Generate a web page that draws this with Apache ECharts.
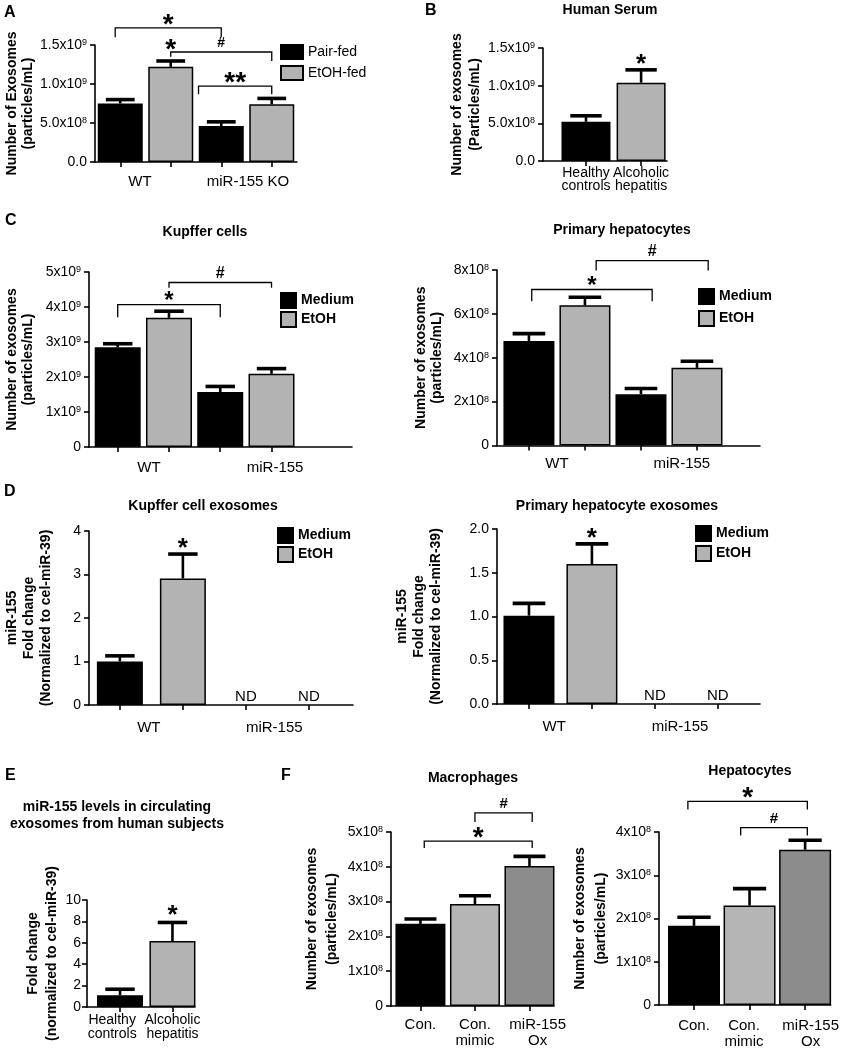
<!DOCTYPE html>
<html><head><meta charset="utf-8">
<script src="https://cdn.jsdelivr.net/npm/echarts@6/dist/echarts.min.js"></script>
<style>html,body{margin:0;padding:0;background:#fff}#c{width:842px;height:1050px}</style>
</head><body><div id="c"></div>
<script>
// ================= DATA =================
// A: mouse serum exosomes
const groupsA = ['WT', 'miR-155 KO'];
const pairFedA = [0.75e9, 0.46e9];
const pairFedSemA = [0.05e9, 0.055e9];
const etohFedA = [1.22e9, 0.74e9];
const etohFedSemA = [0.075e9, 0.075e9];
const yTicksA = ['0.0', '5.0x10^8', '1.0x10^9', '1.5x10^9'];

// B: human serum
const groupsB = ['Healthy\ncontrols', 'Alcoholic\nhepatitis'];
const serumB = [0.52e9, 1.04e9];
const serumSemB = [0.08e9, 0.17e9];
const yTicksB = ['0.0', '5.0x10^8', '1.0x10^9', '1.5x10^9'];

// C: Kupffer cells / primary hepatocytes
const groupsC = ['WT', 'miR-155'];
const kcMedium = [2.85e9, 1.57e9];
const kcMediumSem = [0.10e9, 0.16e9];
const kcEtoh = [3.69e9, 2.09e9];
const kcEtohSem = [0.19e9, 0.15e9];
const yTicksC1 = ['0', '1x10^9', '2x10^9', '3x10^9', '4x10^9', '5x10^9'];
const hepMedium = [4.76e8, 2.34e8];
const hepMediumSem = [0.34e8, 0.26e8];
const hepEtoh = [6.39e8, 3.54e8];
const hepEtohSem = [0.37e8, 0.30e8];
const yTicksC2 = ['0', '2x10^8', '4x10^8', '6x10^8', '8x10^8'];

// D: miR-155 in exosomes (null = not detected)
const groupsD = ['WT', 'miR-155'];
const kcExoMedium = [1.0, null];
const kcExoMediumSem = [0.13, null];
const kcExoEtoh = [2.91, null];
const kcExoEtohSem = [0.56, null];
const yTicksD1 = ['0', '1', '2', '3', '4'];
const hepExoMedium = [1.01, null];
const hepExoMediumSem = [0.14, null];
const hepExoEtoh = [1.60, null];
const hepExoEtohSem = [0.23, null];
const yTicksD2 = ['0.0', '0.5', '1.0', '1.5', '2.0'];

// E: human circulating exosomes miR-155
const groupsE = ['Healthy\ncontrols', 'Alcoholic\nhepatitis'];
const foldE = [1.1, 6.16];
const foldSemE = [0.56, 1.74];
const yTicksE = ['0', '2', '4', '6', '8', '10'];

// F: macrophages / hepatocytes
const groupsF = ['Con.', 'Con.\nmimic', 'miR-155\nOx'];
const macroF = [2.36e8, 2.93e8, 4.02e8];
const macroSemF = [0.14e8, 0.24e8, 0.28e8];
const yTicksF1 = ['0', '1x10^8', '2x10^8', '3x10^8', '4x10^8', '5x10^8'];
const hepF = [1.83e8, 2.30e8, 3.59e8];
const hepSemF = [0.20e8, 0.39e8, 0.22e8];
const yTicksF2 = ['0', '1x10^8', '2x10^8', '3x10^8', '4x10^8'];

// significance annotations (x in bar-index units, y in data units)
const bracketsA = [
  {x1: -0.1, x2: 2, level: 1.72e9, dl: 1.60e9, dr: 1.60e9, text: '*'},
  {x1: 1, x2: 3, level: 1.41e9, dl: 1.35e9, dr: 1.295e9, text: '#'},
  {x1: 1.55, x2: 3, level: 0.974e9, dl: 0.87e9, dr: 0.87e9, text: '**'}
];
const starsA = ['', '*', '', ''];
const starsB = ['', '*'];
const bracketsC1 = [
  {x1: 0, x2: 2, level: 4.07e9, dl: 3.71e9, dr: 3.71e9, text: '*'},
  {x1: 1, x2: 3, level: 4.70e9, dl: 4.55e9, dr: 4.55e9, text: '#'}
];
const bracketsC2 = [
  {x1: 0.05, x2: 2.2, level: 7.11e8, dl: 6.57e8, dr: 6.57e8, text: '*'},
  {x1: 1.2, x2: 3.2, level: 8.43e8, dl: 7.98e8, dr: 7.98e8, text: '#'}
];
const starsD = ['', '*', '', ''];
const starsE = ['', '*'];
const bracketsF1 = [
  {x1: 0.07, x2: 2.05, level: 4.74e8, dl: 4.54e8, dr: 4.54e8, text: '*'},
  {x1: 1, x2: 2.05, level: 5.55e8, dl: 5.29e8, dr: 5.29e8, text: '#'}
];
const bracketsF2 = [
  {x1: -0.11, x2: 2.04, level: 4.71e8, dl: 4.52e8, dr: 4.52e8, text: '*'},
  {x1: 0.84, x2: 2.04, level: 4.10e8, dl: 3.92e8, dr: 3.92e8, text: '#'}
];

// ================= STYLE / BUILD =================
const FONT = '"Liberation Sans", Arial, Helvetica, sans-serif';
const GRAY = '#b3b3b3';
const AX = 1.6;
const RICH = {
  m: {fontSize: 14, color: '#000', fontFamily: FONT},
  s: {fontSize: 9, color: '#000', fontFamily: FONT, verticalAlign: 'top'}
};
function tickRich(s) {
  if (s === undefined) return '';
  const p = s.split('^');
  return p.length > 1 ? '{m|' + p[0] + '}{s|' + p[1] + '}' : '{m|' + p[0] + '}';
}
function symText(x, cy, t, fs) {
  const star = t.indexOf('*') >= 0;
  return {type: 'text', x: x, y: cy + (star ? 0.265 * fs : 0.05 * fs),
    style: {text: t, fontSize: fs, fontWeight: 'bold', fill: '#000', align: 'center', verticalAlign: 'middle', fontFamily: FONT}};
}

const option = {
  animation: false, backgroundColor: '#fff', textStyle: {fontFamily: FONT},
  grid: [], xAxis: [], yAxis: [], series: [], legend: [], graphic: []
};

function addPanel(c) {
  const gi = option.grid.length;
  option.grid.push({left: c.box[0], top: c.box[1], width: c.box[2], height: c.box[3]});
  const nS = c.series.length, nG = c.groups.length;
  const barPos = [];
  for (let i = 0; i < nS * nG; i++) barPos.push(i);
  const labelAt = c.labelAt;
  option.xAxis.push({
    type: 'value', gridIndex: gi, min: c.xRange[0], max: c.xRange[1],
    axisLine: {show: true, onZero: false, lineStyle: {color: '#000', width: AX}},
    axisTick: {show: true, customValues: barPos, length: 5, lineStyle: {color: '#000', width: AX}},
    axisLabel: {show: true, customValues: labelAt, margin: c.labelMargin, color: '#000',
      fontSize: c.catFont, lineHeight: c.catLH, fontFamily: FONT,
      formatter: function (v) {
        let best = 0;
        labelAt.forEach(function (p, i) { if (Math.abs(p - v) < Math.abs(labelAt[best] - v)) best = i; });
        return c.groups[best];
      }},
    splitLine: {show: false}
  });
  option.yAxis.push({
    type: 'value', gridIndex: gi, min: 0, max: c.yMax, interval: c.yStep,
    axisLine: {show: true, onZero: false, lineStyle: {color: '#000', width: AX}},
    axisTick: {show: true, length: 5, lineStyle: {color: '#000', width: AX}},
    axisLabel: {margin: c.yLabelMargin || 8, formatter: function (v) { return tickRich(c.yTicks[Math.round(v / c.yStep)]); }, rich: RICH},
    splitLine: {show: false},
    name: c.yName, nameLocation: 'middle', nameRotate: 90, nameGap: c.yNameGap,
    nameTextStyle: {fontWeight: 'bold', fontSize: 14, lineHeight: c.yNameLH, color: '#000', fontFamily: FONT, align: 'center'}
  });
  const errData = [];
  c.series.forEach(function (s, si) {
    const data = s.values.map(function (v, g) {
      const x = nS > 1 ? g * nS + si : g;
      if (v === null) {
        return {value: [x, 0], itemStyle: {borderWidth: 0},
          label: {show: true, formatter: 'ND', position: 'top', distance: 1, color: '#000', fontSize: 15, fontFamily: FONT}};
      }
      errData.push([x, v, v + s.sems[g]]);
      const item = {value: [x, v]};
      if (s.colors) item.itemStyle = {color: s.colors[g]};
      return item;
    });
    option.series.push({type: 'bar', name: s.name, xAxisIndex: gi, yAxisIndex: gi, barWidth: c.barWidth, barGap: '-100%',
      data: data, silent: true, z: 2,
      itemStyle: {color: s.color || '#000', borderColor: '#000', borderWidth: 1.5}});
  });
  const stars = c.stars || [];
  option.series.push({type: 'custom', xAxisIndex: gi, yAxisIndex: gi, z: 4, silent: true, data: errData,
    encode: {x: 0, y: [1, 2]},
    renderItem: function (p, api) {
      const x = api.value(0), m = api.value(1), u = api.value(2);
      const a = api.coord([x, m]), b = api.coord([x, u]);
      const hw = c.barWidth * 0.32;
      const ch = [
        {type: 'line', shape: {x1: a[0], y1: a[1], x2: b[0], y2: b[1]}, style: {stroke: '#000', lineWidth: 2.6}},
        {type: 'line', shape: {x1: b[0] - hw, y1: b[1], x2: b[0] + hw, y2: b[1]}, style: {stroke: '#000', lineWidth: 3.6}}
      ];
      const st = stars[Math.round(x)];
      if (st) ch.push(symText(b[0], b[1] - c.starOffset, st, c.starSize));
      return {type: 'group', children: ch};
    }});
  if (c.brackets) {
    option.series.push({type: 'custom', xAxisIndex: gi, yAxisIndex: gi, z: 4, silent: true,
      data: c.brackets.map(function (b) { return [b.x1, b.x2, b.level, b.dl, b.dr]; }),
      encode: {x: [0, 1], y: [2, 3, 4]},
      renderItem: function (p, api) {
        const b = c.brackets[p.dataIndex];
        const L = api.coord([api.value(0), api.value(2)]);
        const R = api.coord([api.value(1), api.value(2)]);
        const yl = api.coord([api.value(0), api.value(3)])[1];
        const yr = api.coord([api.value(1), api.value(4)])[1];
        const fs = b.text === '#' ? c.hashSize : c.starSize;
        return {type: 'group', children: [
          {type: 'polyline', shape: {points: [[L[0], yl], [L[0], L[1]], [R[0], R[1]], [R[0], yr]]},
            style: {stroke: '#000', lineWidth: 1.3, fill: null}},
          symText((L[0] + R[0]) / 2, L[1] - 10, b.text, fs)
        ]};
      }});
  }
  if (c.legend) {
    const lg = c.legend;
    option.legend.push({left: lg.left, top: lg.top, orient: 'vertical', padding: 0, icon: 'rect',
      itemWidth: lg.w, itemHeight: lg.h, itemGap: lg.gap, selectedMode: false,
      data: c.series.map(function (s) { return s.name; }),
      textStyle: {fontSize: 14, fontWeight: lg.bold ? 'bold' : 'normal', color: '#000', fontFamily: FONT}});
  }
}

function addText(x, y, t, fs, bold, align) {
  option.graphic.push({type: 'text', x: x, y: y, silent: true,
    style: {text: t, fontSize: fs, fontWeight: bold ? 'bold' : 'normal', fill: '#000',
      align: align || 'center', verticalAlign: 'middle', fontFamily: FONT}});
}

// ----- Panel A -----
addPanel({box: [95, 45, 202, 117], xRange: [-0.5, 3.5], yMax: 1.5e9, yStep: 0.5e9, yTicks: yTicksA,
  yName: 'Number of Exosomes\n(particles/mL)', yNameGap: 59, yNameLH: 16, barWidth: 45,
  groups: groupsA, labelAt: [0.39, 2.53], labelMargin: 12, catFont: 15, catLH: 15,
  series: [{name: 'Pair-fed', color: '#000', values: pairFedA, sems: pairFedSemA},
           {name: 'EtOH-fed', color: GRAY, values: etohFedA, sems: etohFedSemA}],
  brackets: bracketsA, stars: starsA, starOffset: 18, starSize: 28, hashSize: 14,
  legend: {left: 280, top: 44, w: 22, h: 14, gap: 5, bold: false}});
// ----- Panel B -----
addPanel({box: [543, 48, 124, 113], xRange: [-0.78, 1.47], yMax: 1.5e9, yStep: 0.5e9, yTicks: yTicksB,
  yName: 'Number of exosomes\n(Particles/mL)', yNameGap: 46, yNameLH: 18, barWidth: 49,
  groups: groupsB, labelAt: [0, 1], labelMargin: 6, catFont: 14, catLH: 13,
  series: [{name: 'Human serum', values: serumB, sems: serumSemB, colors: ['#000', GRAY]}],
  stars: starsB, starOffset: 12, starSize: 26, hashSize: 15});
// ----- Panel C left -----
addPanel({box: [89, 272, 263, 175], xRange: [-0.56, 4.57], yMax: 5e9, yStep: 1e9, yTicks: yTicksC1,
  yName: 'Number of exosomes\n(particles/mL)', yNameGap: 53, yNameLH: 16, barWidth: 46,
  groups: groupsC, labelAt: [0.61, 3.07], labelMargin: 13, catFont: 15, catLH: 15,
  series: [{name: 'Medium', color: '#000', values: kcMedium, sems: kcMediumSem},
           {name: 'EtOH', color: GRAY, values: kcEtoh, sems: kcEtohSem}],
  brackets: bracketsC1, starSize: 24, hashSize: 16,
  legend: {left: 280, top: 292, w: 15, h: 15, gap: 2, bold: true}});
// ----- Panel C right -----
addPanel({box: [497, 270, 263, 175.5], xRange: [-0.57, 4.125], yMax: 8e8, yStep: 2e8, yTicks: yTicksC2,
  yName: 'Number of exosomes\n(particles/mL)', yNameGap: 52, yNameLH: 16, barWidth: 51,
  groups: groupsC, labelAt: [0.5, 2.73], labelMargin: 11, catFont: 15, catLH: 15,
  series: [{name: 'Medium', color: '#000', values: hepMedium, sems: hepMediumSem},
           {name: 'EtOH', color: GRAY, values: hepEtoh, sems: hepEtohSem}],
  brackets: bracketsC2, starSize: 24, hashSize: 16,
  legend: {left: 698, top: 288, w: 15, h: 15, gap: 5, bold: true}});
// ----- Panel D left -----
addPanel({box: [89, 531, 264, 174], xRange: [-0.49, 3.7], yMax: 4, yStep: 1, yTicks: yTicksD1,
  yName: 'miR-155\nFold change\n(Normalized to cel-miR-39)', yNameGap: 34, yNameLH: 17, barWidth: 46,
  groups: groupsD, labelAt: [0.46, 2.45], labelMargin: 15, catFont: 15, catLH: 15,
  series: [{name: 'Medium', color: '#000', values: kcExoMedium, sems: kcExoMediumSem},
           {name: 'EtOH', color: GRAY, values: kcExoEtoh, sems: kcExoEtohSem}],
  stars: starsD, starOffset: 12, starSize: 26, hashSize: 15,
  legend: {left: 277, top: 527, w: 15, h: 15, gap: 2, bold: true}});
// ----- Panel D right -----
addPanel({box: [497, 529, 263, 175], xRange: [-0.508, 3.67], yMax: 2, yStep: 0.5, yTicks: yTicksD2,
  yName: 'miR-155\nFold change\n(Normalized to cel-miR-39)', yNameGap: 52, yNameLH: 17, barWidth: 51,
  groups: groupsD, labelAt: [0.4, 2.4], labelMargin: 15, catFont: 15, catLH: 15,
  series: [{name: 'Medium', color: '#000', values: hepExoMedium, sems: hepExoMediumSem},
           {name: 'EtOH', color: GRAY, values: hepExoEtoh, sems: hepExoEtohSem}],
  stars: starsD, starOffset: 12, starSize: 26, hashSize: 15,
  legend: {left: 695, top: 525, w: 15, h: 15, gap: 3, bold: true}});
// ----- Panel E -----
addPanel({box: [87, 900, 108, 107], xRange: [-0.63, 1.43], yMax: 10, yStep: 2, yTicks: yTicksE,
  yName: 'Fold change\n(normalized to cel-miR-39)', yNameGap: 16, yNameLH: 19, barWidth: 46,
  groups: groupsE, labelAt: [-0.15, 1.0], labelMargin: 6, catFont: 14, catLH: 14,
  yLabelMargin: 6,
  series: [{name: 'Fold change', values: foldE, sems: foldSemE, colors: ['#000', GRAY]}],
  stars: starsE, starOffset: 14, starSize: 26, hashSize: 15});
// ----- Panel F left -----
addPanel({box: [391, 832, 163, 174], xRange: [-0.54, 2.45], yMax: 5e8, yStep: 1e8, yTicks: yTicksF1,
  yName: 'Number of exosomes\n(particles/mL)', yNameGap: 49, yNameLH: 20, barWidth: 50,
  groups: groupsF, labelAt: [0, 1, 2.15], labelMargin: 11, catFont: 15, catLH: 16,
  series: [{name: 'Macrophages', values: macroF, sems: macroSemF, colors: ['#000', '#b5b5b5', '#8c8c8c']}],
  brackets: bracketsF1, starSize: 28, hashSize: 15});
// ----- Panel F right -----
addPanel({box: [659, 832, 179, 174], xRange: [-0.63, 2.46], yMax: 4e8, yStep: 1e8, yTicks: yTicksF2,
  yName: 'Number of exosomes\n(particles/mL)', yNameGap: 36, yNameLH: 21, barWidth: 52,
  groups: groupsF, labelAt: [0, 0.9, 2.1], labelMargin: 13, catFont: 15, catLH: 16,
  series: [{name: 'Hepatocytes', values: hepF, sems: hepSemF, colors: ['#000', '#b5b5b5', '#8c8c8c']}],
  brackets: bracketsF2, starSize: 28, hashSize: 15});

// panel letters and titles
addText(4, 13, 'A', 16, true, 'left');
addText(425, 11, 'B', 16, true, 'left');
addText(5, 221, 'C', 16, true, 'left');
addText(4, 492, 'D', 16, true, 'left');
addText(5, 776, 'E', 16, true, 'left');
addText(281, 776, 'F', 16, true, 'left');
addText(610, 10, 'Human Serum', 14, true);
addText(205, 232, 'Kupffer cells', 14, true);
addText(622, 230, 'Primary hepatocytes', 14, true);
addText(203, 506, 'Kupffer cell exosomes', 14, true);
addText(617, 506, 'Primary hepatocyte exosomes', 14, true);
addText(117, 807, 'miR-155 levels in circulating', 14, true);
addText(117, 824, 'exosomes from human subjects', 14, true);
addText(473, 778, 'Macrophages', 14, true);
addText(750, 771, 'Hepatocytes', 14, true);

const chart = echarts.init(document.getElementById('c'), null, {renderer: 'canvas'});
chart.setOption(option);
</script>
</body></html>
